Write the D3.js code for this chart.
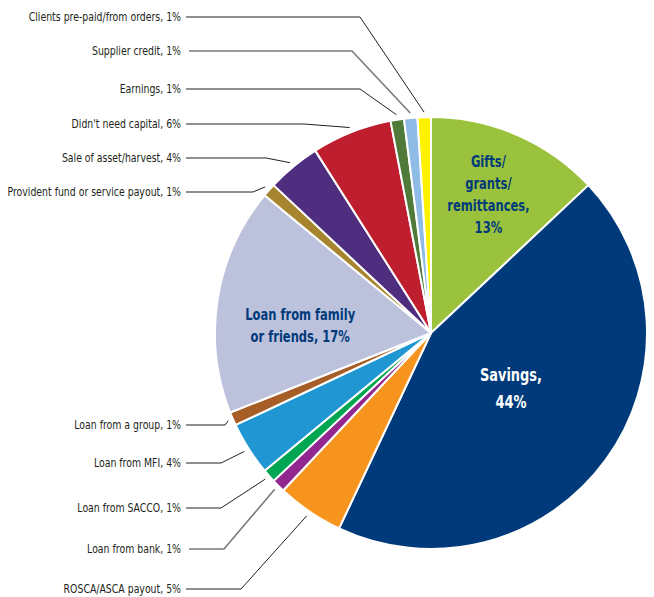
<!DOCTYPE html>
<html lang="en">
<head>
    <meta charset="utf-8">
    <title>Sources of start-up capital</title>
    <script src="https://d3js.org/d3.v7.min.js" charset="utf-8"></script>
    <style>
        body { margin: 0; background: #fff; }
        text { font-family: "DejaVu Sans", sans-serif; }
    </style>
</head>
<body>

    <script>

    // slices, clockwise from 12 o'clock
    var categories = ["Gifts/grants/remittances", "Savings", "ROSCA/ASCA payout", "Loan from bank",
        "Loan from SACCO", "Loan from MFI", "Loan from a group", "Loan from family or friends",
        "Provident fund or service payout", "Sale of asset/harvest", "Didn't need capital",
        "Earnings", "Supplier credit", "Clients pre-paid/from orders"]
    var values = [13, 44, 5, 1, 1, 4, 1, 17, 1, 4, 6, 1, 1, 1]
    var colors = ["#9bc23c", "#003a7a", "#f7941d", "#92278f", "#00a651", "#2097d3", "#a65e26",
        "#bcc1dc", "#a6852e", "#4f2d7f", "#be1e2d", "#4f7a3a", "#8fbce6", "#fff200"]

    // outside labels: text y and elbow x of the leader
    var outLabels = ["Loan from a group", "Loan from MFI", "Loan from SACCO", "Loan from bank",
        "ROSCA/ASCA payout", "Provident fund or service payout", "Sale of asset/harvest",
        "Didn't need capital", "Earnings", "Supplier credit", "Clients pre-paid/from orders"]
    var outY = [425, 463, 508, 549, 589, 192, 158, 124, 89, 51, 17]
    var outElbow = [225, 221, 221, 224, 241, 253, 266, 304, 360, 352, 360]
    var grayLines = ["Loan from bank", "Supplier credit"]

    // labels inside the pie: lines, angle (deg) and radius of the block centre
    var inLabels = [
        {name: "Gifts/grants/remittances", lines: ["Gifts/", "grants/", "remittances,", "13%"], ang: 22.5, r: 150, fill: "#003a7a"},
        {name: "Savings", lines: ["Savings,", "44%"], ang: 124.5, r: 97, fill: "#ffffff"},
        {name: "Loan from family or friends", lines: ["Loan from family", "or friends, 17%"], ang: 273.5, r: 131, fill: "#003a7a"}
    ]

    var w = 654, h = 597
    var cx = 431, cy = 333, radius = 216
    // the original face is a condensed one; squeeze DejaVu sideways instead
    var squeezeOut = 0.78, squeezeIn = 0.72

    var svg = d3.select("body").append("svg").attr("width", w).attr("height", h)
    var g = svg.append("g").attr("transform", "translate(" + cx + "," + cy + ")")

    var data = categories.map(function (c, i) { return {name: c, value: values[i], color: colors[i]} })

    var pie = d3.pie().sort(null).value(function (d) { return d.value })
    var arcs = pie(data)
    var arc = d3.arc().innerRadius(0).outerRadius(radius)

    g.selectAll("path.slice").data(arcs).enter().append("path")
        .attr("class", "slice")
        .attr("d", arc)
        .attr("fill", function (d) { return d.data.color })
        .attr("stroke", "#fff").attr("stroke-width", 2).attr("stroke-linejoin", "round")

    function byName(n) { return arcs.find(function (a) { return a.data.name == n }) }

    // outside labels with leader lines
    outLabels.forEach(function (name, i) {
        var a = byName(name)
        var mid = (a.startAngle + a.endAngle) / 2
        var ex = cx + Math.sin(mid) * (radius + 5)
        var ey = cy - Math.cos(mid) * (radius + 5)
        var gray = grayLines.indexOf(name) >= 0
        svg.append("polyline")
            .attr("points", [[gray ? 189 : 186, outY[i]], [outElbow[i], outY[i]], [ex, ey]].join(" "))
            .attr("fill", "none")
            .attr("stroke", gray ? "#7a7a7a" : "#231f20")
            .attr("stroke-width", gray ? 1.6 : 1)
        svg.append("text")
            .attr("transform", "translate(181," + outY[i] + ") scale(" + squeezeOut + ",1)")
            .attr("dy", "0.35em")
            .attr("text-anchor", "end")
            .attr("font-size", 12)
            .attr("fill", "#231f20")
            .text(name + ", " + a.data.value + "%")
    })

    // labels inside the slices
    inLabels.forEach(function (l) {
        var t = l.ang * Math.PI / 180
        var x = Math.sin(t) * l.r, y = -Math.cos(t) * l.r
        var lh = l.name == "Savings" ? 27 : 22
        var fs = l.name == "Savings" ? 18 : 16
        var txt = g.append("text")
            .attr("transform", "translate(" + x + "," + y + ") scale(" + squeezeIn + ",1)")
            .attr("text-anchor", "middle")
            .attr("font-size", fs)
            .attr("font-weight", "bold")
            .attr("fill", l.fill)
        l.lines.forEach(function (s, j) {
            txt.append("tspan")
                .attr("x", 0)
                .attr("y", (j - (l.lines.length - 1) / 2) * lh)
                .attr("dy", "0.35em")
                .text(s)
        })
    })

    </script>

</body>
</html>
